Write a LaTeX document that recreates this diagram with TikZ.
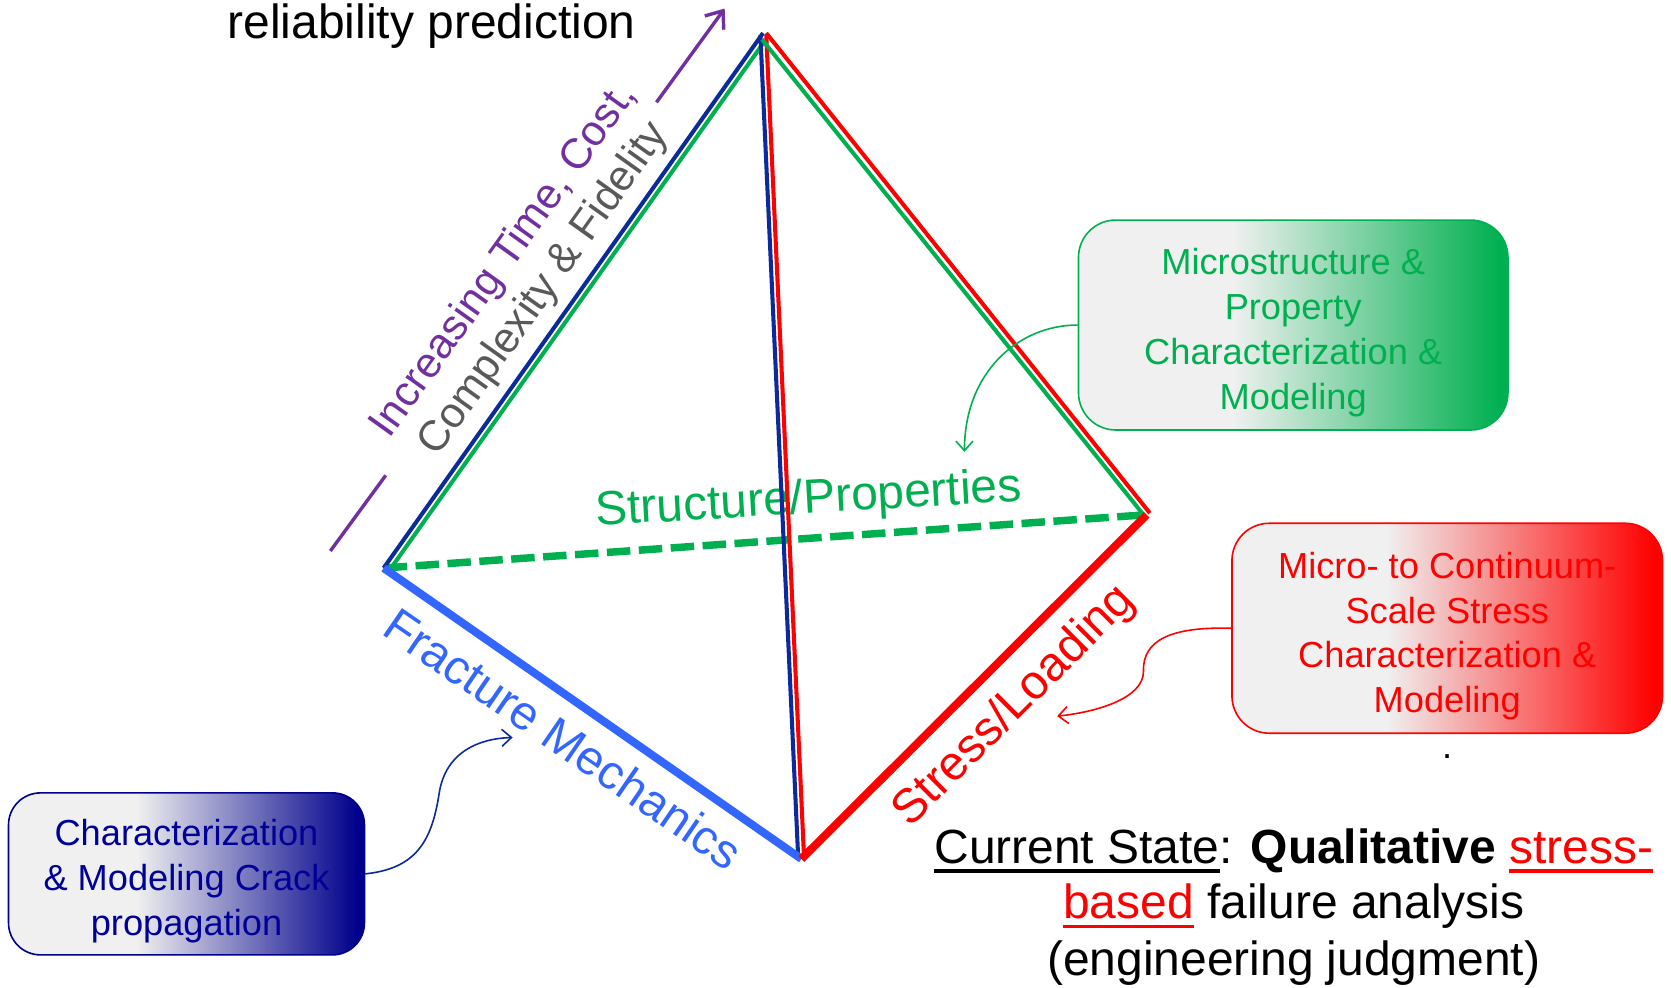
\documentclass[tikz,border=0pt]{standalone}
\usepackage{fontspec}
\setmainfont{Liberation Sans}
\usetikzlibrary{arrows.meta,calc}
\definecolor{navyedge}{HTML}{0B2A9B}
\definecolor{sgreen}{HTML}{00B050}
\definecolor{fmblue}{HTML}{3366FF}
\definecolor{ppl}{HTML}{7030A0}
\definecolor{dgray}{HTML}{595959}
\definecolor{boxgray}{HTML}{F0F0F0}
\definecolor{boxnavy}{HTML}{00008C}
\definecolor{txtnavy}{HTML}{000099}
\definecolor{sred}{HTML}{FF0000}
\pgfdeclarehorizontalshading{gshade}{100bp}{color(0bp)=(boxgray); color(43bp)=(boxgray); color(74bp)=(sgreen); color(100bp)=(sgreen)}
\pgfdeclarehorizontalshading{rshade}{100bp}{color(0bp)=(boxgray); color(43bp)=(boxgray); color(74bp)=(sred); color(100bp)=(sred)}
\pgfdeclarehorizontalshading{bshade}{100bp}{color(0bp)=(boxgray); color(43bp)=(boxgray); color(74bp)=(boxnavy); color(100bp)=(boxnavy)}
\newcommand{\myul}[1]{\setbox0=\hbox{#1}\rlap{\rule[-9pt]{\wd0}{3.2pt}}\box0}
\tikzset{
  edgethin/.style={line width=3.8pt},
  edgethick/.style={line width=7.5pt},
  roundbox/.style={rounded corners=35pt, line width=1.5pt, inner sep=0pt, shade},
  boxtext/.style={align=center, font=\fontsize{34}{42}\selectfont, inner sep=0pt},
  conn/.style={line width=1.5pt, -{Straight Barb[length=9pt,width=16pt]}},
  biglabel/.style={font=\fontsize{45}{54}\selectfont, inner sep=0pt},
}
\begin{document}
\begin{tikzpicture}[x=1pt,y=-1pt]
\useasboundingbox (0,0) rectangle (1568,927);

% vertices
\coordinate (T) at (716,31);
\coordinate (L) at (360,533);
\coordinate (B) at (752,806);
\coordinate (R) at (1076,483);
% offset ends for the double edges
\coordinate (Tg) at (718.3,37.5);
\coordinate (Lg) at (364.6,536.3);
\coordinate (Tb) at (713.5,33);
\coordinate (Bb) at (749,805);
\coordinate (Tr) at (719,33);
\coordinate (Br) at (754.5,805);
\coordinate (Tr2) at (719,31);
\coordinate (Rr) at (1079,481.5);
\coordinate (Tg2) at (715,37);
\coordinate (Rg) at (1074.6,485);

% dashed back edge
\draw[sgreen, line width=7pt, dash pattern=on 22pt off 8pt] (L) -- (R);

% labels
\node[biglabel, anchor=base] (rp) at (405,36) {reliability prediction};
\node[biglabel, text=sgreen, rotate=3.3] (sp) at (759,470) {Structure/Properties};
\node[biglabel, text=fmblue, rotate=-34.5] (fm) at (529,693) {Fracture Mechanics};
\node[biglabel, text=sred, rotate=45] (sl) at (952,663) {Stress/Loading};
\node[rotate=54.4, align=center, font=\fontsize{40}{46}\selectfont, inner sep=0pt] (icost) at (492,258)
  {\textcolor{ppl}{Increasing Time, Cost,}\\\textcolor{dgray}{Complexity \& Fidelity}};

% purple arrow
\coordinate (pa1) at (310,517);
\coordinate (pa2) at (362,446);
\coordinate (pa3) at (616,96);
\coordinate (pa4) at (680,8);
\draw[ppl, line width=3.2pt] (pa1) -- (pa2);
\draw[ppl, line width=3.2pt, -{Straight Barb[length=14pt,width=22pt]}] (pa3) -- (pa4);

% thin edges
\draw[navyedge, edgethin] (T) -- (L);
\draw[sgreen, edgethin] (Tg) -- (Lg);
\draw[navyedge, edgethin] (Tb) -- (Bb);
\draw[sred, edgethin] (Tr) -- (Br);
\draw[sred, edgethin] (Tr2) -- (Rr);
\draw[sgreen, edgethin] (Tg2) -- (Rg);
% thick edges
\draw[fmblue, edgethick] (L) -- (B);
\draw[sred, edgethick] (B) -- (R);

% boxes
\node[roundbox, draw=sgreen, shading=gshade, minimum width=403pt, minimum height=197pt] (gbox) at (1213.5,305) {};
\node[boxtext, text=sgreen] (gtext) at (1213.5,312) {Microstructure \&\\Property\\Characterization \&\\Modeling};

\node[roundbox, draw=sred, shading=rshade, minimum width=404pt, minimum height=197pt] (rbox) at (1358,589.5) {};
\node[boxtext, text=sred] (rtext) at (1358,597) {Micro- to Continuum-\\Scale Stress\\Characterization \&\\Modeling};

\node[roundbox, rounded corners=30pt, draw=boxnavy, shading=bshade, minimum width=334pt, minimum height=152pt] (bbox) at (175,820) {};
\node[boxtext, text=txtnavy] (btext) at (175,827) {Characterization\\\& Modeling Crack\\propagation};

\node[font=\fontsize{34}{40}\selectfont, anchor=base, inner sep=0pt] (dot) at (1358,712) {.};

% connectors
\coordinate (gtip) at (905,424);
\coordinate (rmid) at (1073,630);
\coordinate (rtip) at (992,672);
\coordinate (bmid) at (412,745);
\coordinate (btip) at (481,692);
\draw[sgreen, conn] (gbox.west) .. controls (955,305) and (905,350) .. (gtip);
\draw[sred, conn] (rbox.west) .. controls (1100,588) and (1072,600) .. (rmid) .. controls (1073,655) and (1030,668) .. (rtip);
\draw[navyedge, conn] (bbox.east) .. controls (390,815) and (405,790) .. (bmid) .. controls (418,705) and (450,693) .. (btip);

% bottom statement
\node[biglabel, anchor=base] (cs1) at (1214,810) {\myul{Current State}: \textbf{Qualitative} \textcolor{sred}{\myul{stress-}}};
\node[biglabel, anchor=base] (cs2) at (1214,862) {\textcolor{sred}{\myul{based}} failure analysis};
\node[biglabel, anchor=base] (cs3) at (1214,915) {(engineering judgment)};
\end{tikzpicture}
\end{document}
